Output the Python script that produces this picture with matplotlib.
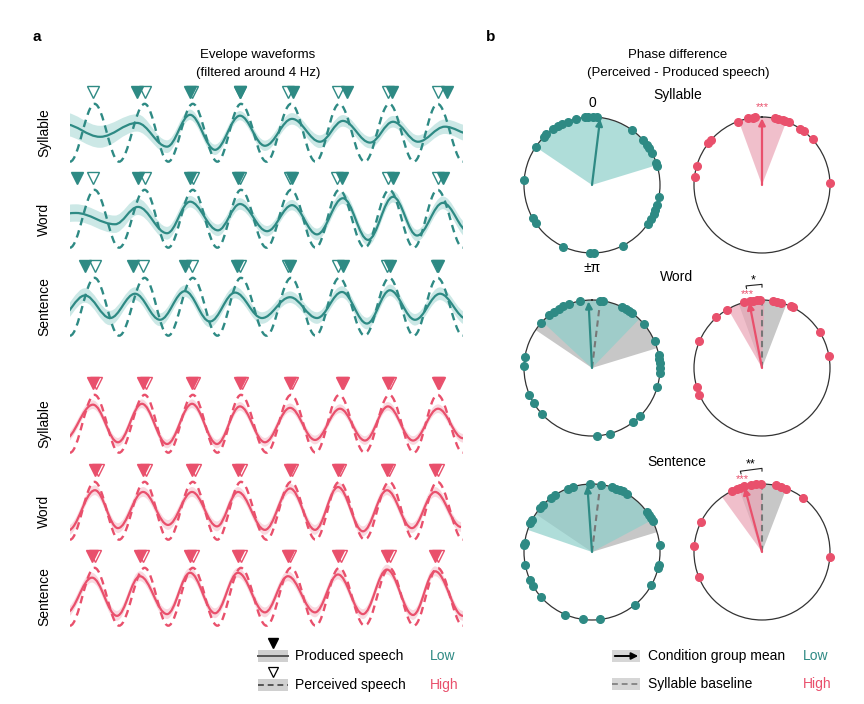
import matplotlib
matplotlib.use("Agg")
import matplotlib.pyplot as plt
from matplotlib.path import Path
from matplotlib.patches import PathPatch, Rectangle, FancyArrowPatch
from matplotlib.lines import Line2D
import numpy as np

plt.rcParams['font.family'] = ['Liberation Sans', 'DejaVu Sans']

TEAL = '#2e8a84'
PINK = '#e9506c'
TEAL_BAND = '#c3e5e2'
PINK_BAND = '#f8d3db'
TEAL_FAN = '#8ecfca'
PINK_FAN = '#eba5b6'
GRAY_FAN = '#bdbdbd'
W, H = 864, 704

# ---------- panel a: envelope waveforms (time in s, amplitude a.u.) ----------
rows = ["Syllable", "Word", "Sentence"]

# perceived speech envelope (dashed), extrema
perc_t = [0.0, 0.125, 0.25, 0.38, 0.5, 0.625, 0.75, 0.87, 1.0,
          1.125, 1.25, 1.37, 1.5, 1.625, 1.75, 1.87, 2.0]
perc_y = [-1, 1, -1, 1, -1, 1, -1, 1, -1, 1, -1, 1, -1, 1, -1, 1, -1]

# produced speech envelope (solid), extrema + band half width
low_syl_t = [-0.03, 0.153, 0.341, 0.494, 0.611, 0.738, 0.865, 0.992, 1.130,
             1.272, 1.389, 1.527, 1.644, 1.771, 1.908, 2.04]
low_syl_y = [0.30, -0.14, 0.34, -0.48, 0.62, -0.59, 0.59, -0.45, 0.48,
             -0.31, 0.41, -0.34, 0.38, -0.31, 0.21, -0.05]
low_syl_w = [0.40, 0.38, 0.30, 0.22, 0.18, 0.18, 0.16, 0.18, 0.20,
             0.22, 0.20, 0.20, 0.20, 0.22, 0.25, 0.28]

low_word_t = [-0.12, 0.03, 0.229, 0.346, 0.494, 0.611, 0.753, 0.865, 1.003,
              1.130, 1.257, 1.389, 1.517, 1.644, 1.766, 1.898, 2.03]
low_word_y = [0.10, 0.20, -0.19, 0.41, -0.50, 0.59, -0.40, 0.51, -0.43,
              0.47, -0.54, 0.71, -0.73, 0.76, -0.58, 0.55, -0.45]
low_word_w = [0.30, 0.30, 0.30, 0.28, 0.22, 0.20, 0.20, 0.20, 0.18,
              0.18, 0.20, 0.20, 0.20, 0.20, 0.20, 0.22, 0.25]

low_sent_t = [-0.05, 0.076, 0.204, 0.331, 0.458, 0.585, 0.712, 0.840, 0.977,
              1.120, 1.257, 1.384, 1.511, 1.628, 1.756, 1.883, 2.02]
low_sent_y = [-0.35, 0.39, -0.39, 0.45, -0.45, 0.54, -0.51, 0.49, -0.39,
              0.33, -0.39, 0.51, -0.58, 0.57, -0.45, 0.45, -0.42]
low_sent_w = [0.25, 0.25, 0.25, 0.22, 0.22, 0.20, 0.20, 0.20, 0.20,
              0.20, 0.20, 0.20, 0.20, 0.20, 0.20, 0.22, 0.22]

high_syl_t = [-0.03, 0.117, 0.244, 0.366, 0.494, 0.621, 0.748, 0.865, 0.992,
              1.120, 1.247, 1.374, 1.501, 1.618, 1.746, 1.873, 2.0]
high_syl_y = [-0.55, 0.66, -0.64, 0.69, -0.70, 0.69, -0.70, 0.60, -0.64,
              0.55, -0.56, 0.52, -0.58, 0.60, -0.58, 0.52, -0.50]
high_syl_w = [0.15] * 17

high_word_t = [-0.01, 0.127, 0.244, 0.372, 0.499, 0.621, 0.748, 0.855, 0.992,
               1.120, 1.247, 1.364, 1.491, 1.613, 1.740, 1.858, 1.99]
high_word_y = [-0.68, 0.71, -0.60, 0.65, -0.49, 0.65, -0.54, 0.65, -0.66,
               0.77, -0.66, 0.82, -0.71, 0.71, -0.60, 0.65, -0.56]
high_word_w = [0.17] * 17

high_sent_t = [-0.02, 0.112, 0.239, 0.356, 0.494, 0.611, 0.738, 0.855, 0.992,
               1.109, 1.247, 1.364, 1.491, 1.613, 1.746, 1.858, 2.0]
high_sent_y = [-0.56, 0.66, -0.66, 0.71, -0.60, 0.83, -0.57, 0.83, -0.54,
               0.71, -0.54, 0.77, -0.60, 0.94, -0.63, 0.88, -0.66]
high_sent_w = [0.17] * 17

# peak markers: produced (filled) and perceived (open)
low_syl_prod = [0.341, 0.611, 0.865, 1.135, 1.410, 1.639, 1.919]
low_syl_perc = [0.117, 0.382, 0.621, 0.865, 1.109, 1.364, 1.618, 1.873]
low_word_prod = [0.036, 0.346, 0.611, 0.855, 1.130, 1.384, 1.644, 1.898]
low_word_perc = [0.117, 0.382, 0.626, 0.865, 1.120, 1.360, 1.618, 1.873]
low_sent_prod = [0.076, 0.321, 0.585, 0.850, 1.120, 1.389, 1.628, 1.873]
low_sent_perc = [0.127, 0.372, 0.621, 0.865, 1.109, 1.364, 1.613, 1.868]
high_syl_prod = [0.117, 0.372, 0.621, 0.865, 1.120, 1.384, 1.618, 1.873]
high_syl_perc = [0.130, 0.385, 0.630, 0.875, 1.130, 1.390, 1.628, 1.880]
high_word_prod = [0.127, 0.372, 0.621, 0.855, 1.120, 1.364, 1.613, 1.858]
high_word_perc = [0.140, 0.385, 0.635, 0.870, 1.130, 1.375, 1.625, 1.875]
high_sent_prod = [0.112, 0.356, 0.611, 0.855, 1.109, 1.364, 1.613, 1.858]
high_sent_perc = [0.127, 0.370, 0.625, 0.870, 1.120, 1.378, 1.628, 1.872]

# ---------- panel b: phase difference (deg, clockwise from top) ----------
low_syl_dots = [-6, -3, 1, 4, -14, -21, -26, -30, -35, -42, -45, -56, -86, -119,
                -124, -155, 178, -178, 153, 125, 120, 115, 112, 107, 100, 74, 71,
                62, 57, 54, 49, 36]
low_syl_fan, low_syl_mean = (-56, 73), 7
high_syl_dots = [-21, -12, -8, -6, 11, 14, 18, 20, 23, 34, 38, 48, -49, -52, -74, -83, 88]
high_syl_fan, high_syl_mean = (-20, 21), 0

low_word_dots = [-10, -20, -25, -29, -34, -39, -49, -81, -88, -113, -121, -133, 176,
                 165, 143, 135, 106, 94, 90, 86, 82, 79, 67, 50, 26, 30, 33, 36, 7, 9]
low_word_fan, low_word_mean = (-47, 44), -3
high_word_dots = [-15, -10, -8, -4, -2, 9, 13, 16, 25, 27, -31, -42, -67, -106, -113, 58, 80]
high_word_fan, high_word_mean = (-30, 2), -11

low_sent_dots = [-21, -16, -2, 8, 17, 21, 24, 27, 31, -33, -37, -46, -50, -62, -65,
                 -82, -84, -101, -114, -120, -131, -157, -172, 173, 141, 119, 104,
                 101, 84, 54, 57, 60, 63]
low_sent_fan, low_sent_mean = (-71, 62), -4
high_sent_dots = [-26, -22, -19, -15, -9, -5, -1, 12, 16, 21, 37, -64, -85, -112, 94]
high_sent_fan, high_sent_mean = (-36, 0), -15

waves = [
    (low_syl_t, low_syl_y, low_syl_w, low_syl_prod, low_syl_perc, TEAL, TEAL_BAND),
    (low_word_t, low_word_y, low_word_w, low_word_prod, low_word_perc, TEAL, TEAL_BAND),
    (low_sent_t, low_sent_y, low_sent_w, low_sent_prod, low_sent_perc, TEAL, TEAL_BAND),
    (high_syl_t, high_syl_y, high_syl_w, high_syl_prod, high_syl_perc, PINK, PINK_BAND),
    (high_word_t, high_word_y, high_word_w, high_word_prod, high_word_perc, PINK, PINK_BAND),
    (high_sent_t, high_sent_y, high_sent_w, high_sent_prod, high_sent_perc, PINK, PINK_BAND),
]
wave_peak_px = [104, 190, 278, 395, 482, 568]

K = 0.364  # bezier handle, close to a half cosine between extrema


def smooth_path(ts, ys):
    verts = [(ts[0], ys[0])]
    codes = [Path.MOVETO]
    for t0, y0, t1, y1 in zip(ts[:-1], ys[:-1], ts[1:], ys[1:]):
        d = K * (t1 - t0)
        verts += [(t0 + d, y0), (t1 - d, y1), (t1, y1)]
        codes += [Path.CURVE4] * 3
    return verts, codes


def band_path(ts, ys, ws):
    up = [y + w for y, w in zip(ys, ws)]
    lo = [y - w for y, w in zip(ys, ws)]
    v1, c1 = smooth_path(ts, up)
    v2, c2 = smooth_path(ts[::-1], lo[::-1])
    return Path(v1 + v2 + [v1[0]], c1 + [Path.LINETO] + c2[1:] + [Path.CLOSEPOLY])


def box(left, top, width, height):
    return [left / W, 1 - (top + height) / H, width / W, height / H]


def fx(px):
    return px / W


def fy(py):
    return 1 - py / H


fig = plt.figure(figsize=(8.64, 7.04), dpi=100)

for i, (ts, ys, ws, prod, perc, col, bcol) in enumerate(waves):
    P = wave_peak_px[i]
    ax = fig.add_axes(box(70, P - 21, 393, 81))
    ax.set_xlim(0, 2)
    ax.set_ylim(-1.08, 1.72)
    ax.axis('off')
    ax.add_patch(PathPatch(band_path(ts, ys, ws), facecolor=bcol, edgecolor='none',
                           alpha=0.85, zorder=1))
    v, c = smooth_path(perc_t, perc_y)
    ax.add_patch(PathPatch(Path(v, c), facecolor='none', edgecolor=col, lw=1.7,
                           linestyle=(0, (3.2, 2.2)), zorder=2))
    v, c = smooth_path(ts, ys)
    ax.add_patch(PathPatch(Path(v, c), facecolor='none', edgecolor=col, lw=1.6, zorder=3))
    ax.plot(perc, [1.42] * len(perc), 'v', ms=8, mfc='white', mec=col, mew=1.0,
            clip_on=False, zorder=4)
    ax.plot(prod, [1.42] * len(prod), 'v', ms=8, mfc=col, mec=col, mew=1.0,
            clip_on=False, zorder=5)
    fig.text(fx(44), fy(P + 29), rows[i % 3], rotation=90, ha='center', va='center',
             fontsize=10)

fig.text(fx(37), fy(37), 'a', fontsize=11, fontweight='bold', ha='center', va='center')
fig.text(fx(491), fy(37), 'b', fontsize=11, fontweight='bold', ha='center', va='center')
fig.text(fx(258), fy(55), 'Evelope waveforms', fontsize=9.5, ha='center', va='center')
fig.text(fx(258), fy(73), '(filtered around 4 Hz)', fontsize=9.5, ha='center', va='center')
fig.text(fx(678), fy(55), 'Phase difference', fontsize=9.5, ha='center', va='center')
fig.text(fx(678), fy(73), '(Perceived - Produced speech)', fontsize=9.5, ha='center', va='center')
fig.text(fx(678), fy(95), 'Syllable', fontsize=10, ha='center', va='center')
fig.text(fx(677), fy(277), 'Word', fontsize=10, ha='center', va='center')
fig.text(fx(677), fy(462), 'Sentence', fontsize=10, ha='center', va='center')

# ---------- polar panels ----------
polars = [
    (low_syl_dots, low_syl_fan, low_syl_mean, None, TEAL, TEAL_FAN, 592, 185),
    (high_syl_dots, high_syl_fan, high_syl_mean, None, PINK, PINK_FAN, 762, 185),
    (low_word_dots, low_word_fan, low_word_mean, (low_syl_fan, low_syl_mean), TEAL, TEAL_FAN, 592, 368),
    (high_word_dots, high_word_fan, high_word_mean, (high_syl_fan, high_syl_mean), PINK, PINK_FAN, 762, 368),
    (low_sent_dots, low_sent_fan, low_sent_mean, (low_syl_fan, low_syl_mean), TEAL, TEAL_FAN, 592, 552),
    (high_sent_dots, high_sent_fan, high_sent_mean, (high_syl_fan, high_syl_mean), PINK, PINK_FAN, 762, 552),
]
pax = []
for dots, fan, mean, base, col, fcol, cx, cy in polars:
    ax = fig.add_axes(box(cx - 68, cy - 68, 136, 136), projection='polar')
    ax.set_theta_zero_location('N')
    ax.set_theta_direction(-1)
    ax.set_ylim(0, 1)
    ax.set_xticks([])
    ax.set_yticks([])
    ax.grid(False)
    ax.spines['polar'].set_color('#333333')
    ax.spines['polar'].set_linewidth(0.9)
    if base is not None:
        (b0, b1), bm = base
        ax.bar(np.deg2rad(b0), 1, width=np.deg2rad(b1 - b0), bottom=0, align='edge',
               color=GRAY_FAN, alpha=0.85, edgecolor='none', zorder=1)
    ax.bar(np.deg2rad(fan[0]), 1, width=np.deg2rad(fan[1] - fan[0]), bottom=0,
           align='edge', color=fcol, alpha=0.7, edgecolor='none', zorder=2)
    if base is not None:
        ax.plot([np.deg2rad(bm)] * 2, [0, 0.98], color='#777777', lw=1.5,
                linestyle=(0, (3, 2)), zorder=3)
    ax.annotate('', xy=(np.deg2rad(mean), 0.98), xytext=(0, 0),
                arrowprops=dict(arrowstyle='-|>', color=col, lw=1.6, mutation_scale=10,
                                shrinkA=0, shrinkB=0), zorder=4)
    ax.plot(np.deg2rad(dots), [1.0] * len(dots), 'o', ms=5.5, color=col, mec=col,
            clip_on=False, zorder=5)
    pax.append(ax)

pax[0].text(0, 1.2, '0', ha='center', va='center', fontsize=10)
pax[0].text(np.pi, 1.22, '\u00b1\u03c0', ha='center', va='center', fontsize=10)
pax[1].text(0, 1.15, '***', ha='center', va='center', fontsize=8, color=PINK)

# significance marks, word and sentence (high)
for ax, mean, stars in [(pax[3], high_word_mean, '*'), (pax[5], high_sent_mean, '**')]:
    th = [np.deg2rad(mean), np.deg2rad(mean), 0, 0]
    ax.plot(th, [1.19, 1.23, 1.23, 1.19], color='#222222', lw=0.8, clip_on=False)
    ax.text(np.deg2rad(mean / 2), 1.3, stars, ha='center', va='center', fontsize=9)
    ax.text(np.deg2rad(mean), 1.11, '***', ha='center', va='center', fontsize=8,
            color=PINK)

# ---------- legends ----------
for py_band, ls in [(656, '-'), (685, (0, (3, 2)))]:
    fig.add_artist(Rectangle((fx(258), fy(py_band + 6)), 30 / W, 12 / H,
                             transform=fig.transFigure, color='#d0d0d0', lw=0))
    fig.add_artist(Line2D([fx(258), fx(288)], [fy(py_band)] * 2, transform=fig.transFigure,
                          color='#555555', lw=1.4, linestyle=ls))
fig.add_artist(Line2D([fx(273)], [fy(643)], transform=fig.transFigure, marker='v',
                      ms=7.5, color='black', mfc='black', lw=0))
fig.add_artist(Line2D([fx(273)], [fy(672)], transform=fig.transFigure, marker='v',
                      ms=7.5, color='black', mfc='white', mew=0.9, lw=0))
fig.text(fx(295), fy(656), 'Produced speech', fontsize=10, va='center')
fig.text(fx(295), fy(685), 'Perceived speech', fontsize=10, va='center')
fig.text(fx(430), fy(656), 'Low', fontsize=10, va='center', color=TEAL)
fig.text(fx(430), fy(685), 'High', fontsize=10, va='center', color=PINK)

for py_band in [656, 684]:
    fig.add_artist(Rectangle((fx(612), fy(py_band + 6)), 28 / W, 12 / H,
                             transform=fig.transFigure, color='#d6d6d6', lw=0))
fig.add_artist(FancyArrowPatch((fx(612), fy(656)), (fx(641), fy(656)),
                               transform=fig.transFigure, arrowstyle='-|>',
                               mutation_scale=10, color='black', lw=1.4))
fig.add_artist(Line2D([fx(612), fx(640)], [fy(684)] * 2, transform=fig.transFigure,
                      color='#888888', lw=1.4, linestyle=(0, (3, 2))))
fig.text(fx(648), fy(656), 'Condition group mean', fontsize=10, va='center')
fig.text(fx(648), fy(684), 'Syllable baseline', fontsize=10, va='center')
fig.text(fx(803), fy(656), 'Low', fontsize=10, va='center', color=TEAL)
fig.text(fx(803), fy(684), 'High', fontsize=10, va='center', color=PINK)

fig.savefig('out.png', dpi=100, facecolor='white')
